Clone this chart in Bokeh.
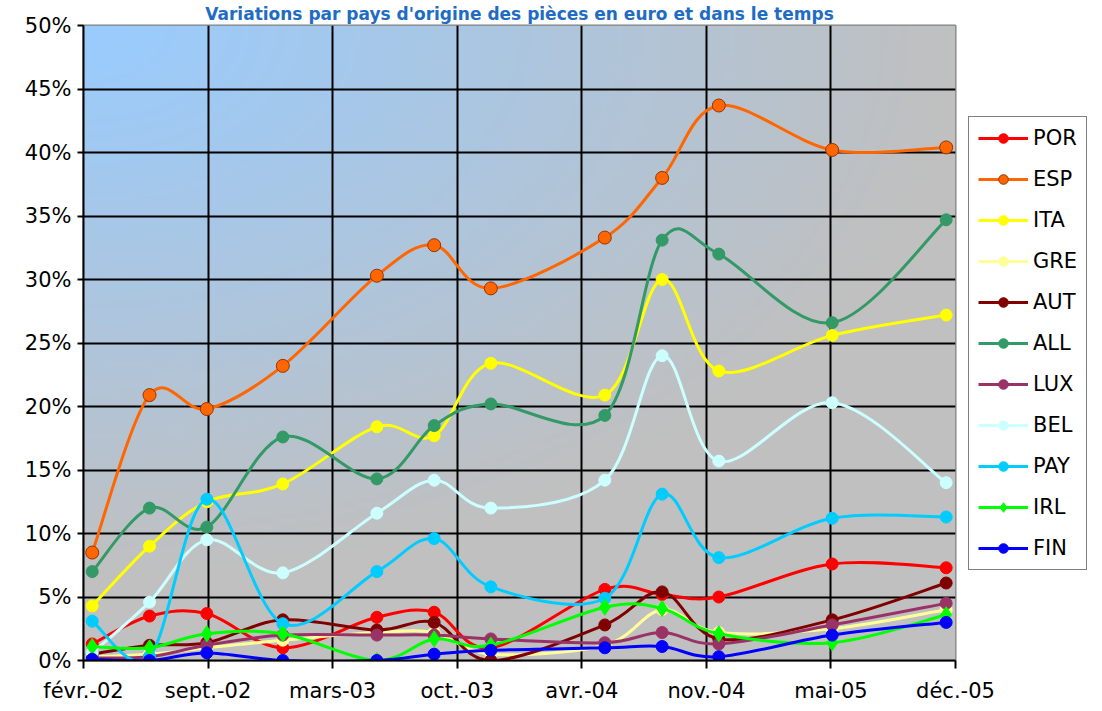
import numpy as np
import pandas as pd
from bokeh.plotting import figure
from bokeh.models import FixedTicker, PrintfTickFormatter, Legend, LegendItem
from bokeh.embed import file_html
from bokeh.resources import INLINE

# ---------------- data ----------------
title_text = "Variations par pays d'origine des pièces en euro et dans le temps"
axis_start = "2002-02-15"
tick_step_days = 200
tick_labels = ["févr.-02", "sept.-02", "mars-03", "oct.-03", "avr.-04", "nov.-04", "mai-05", "déc.-05"]
dates = ["2002-03-01", "2002-06-01", "2002-09-01", "2003-01-01", "2003-06-01", "2003-09-01",
         "2003-12-01", "2004-06-01", "2004-09-01", "2004-12-01", "2005-06-01", "2005-12-01"]

POR = [1.3, 3.5, 3.7, 1.0, 3.4, 3.8, 1.0, 5.6, 5.2, 5.0, 7.6, 7.3]
ESP = [8.5, 20.9, 19.8, 23.2, 30.3, 32.7, 29.3, 33.3, 38.0, 43.7, 40.2, 40.4]
ITA = [4.3, 9.0, 12.5, 13.9, 18.4, 17.7, 23.4, 20.9, 30.0, 22.8, 25.6, 27.2]
GRE = [0.3, 0.5, 1.0, 1.6, 2.2, 2.2, 0.5, 1.2, 4.0, 2.2, 2.5, 4.0]
AUT = [0.5, 1.2, 1.4, 3.2, 2.4, 3.0, 0.0, 2.8, 5.4, 1.7, 3.2, 6.1]
ALL = [7.0, 12.0, 10.5, 17.6, 14.3, 18.5, 20.2, 19.3, 33.1, 32.0, 26.6, 34.7]
LUX = [0.2, 0.3, 1.2, 2.0, 2.0, 2.0, 1.7, 1.4, 2.2, 1.3, 2.8, 4.5]
BEL = [0.6, 4.6, 9.5, 6.9, 11.6, 14.2, 12.0, 14.2, 24.0, 15.7, 20.3, 14.0]
PAY = [3.1, 0.3, 12.7, 2.9, 7.0, 9.6, 5.8, 4.9, 13.1, 8.1, 11.2, 11.3]
IRL = [1.1, 1.0, 2.1, 2.1, 0.0, 1.7, 1.2, 4.2, 4.1, 2.1, 1.4, 3.6]
FIN = [0.1, 0.0, 0.6, 0.0, 0.0, 0.5, 0.8, 1.0, 1.1, 0.3, 2.0, 3.0]

names = ["POR", "ESP", "ITA", "GRE", "AUT", "ALL", "LUX", "BEL", "PAY", "IRL", "FIN"]
values = [POR, ESP, ITA, GRE, AUT, ALL, LUX, BEL, PAY, IRL, FIN]
colors = ["#FF0000", "#FF6600", "#FFFF00", "#FFFF99", "#800000", "#339966",
          "#993366", "#CCFFFF", "#00CCFF", "#00FF00", "#0000FF"]
outlines = ["#FF0000", "#993300", "#FFFF00", "#FFFF99", "#800000", "#339966",
            "#993366", "#CCFFFF", "#00CCFF", "#00FF00", "#0000FF"]
markers = ["circle"] * 9 + ["diamond", "circle"]

y_max = 50
y_step = 5

# ---------------- helpers ----------------
x_days = (pd.to_datetime(dates) - pd.Timestamp(axis_start)).days.to_numpy().astype(float)
x_max = (len(tick_labels) - 1) * tick_step_days


def smooth_segments(x, y):
    """Catmull-Rom style Bezier control points (Excel-like smoothed line)."""
    x = np.asarray(x, float)
    y = np.asarray(y, float)
    xp = np.concatenate([[x[0]], x, [x[-1]]])
    yp = np.concatenate([[y[0]], y, [y[-1]]])
    n = len(x)
    d = dict(x0=[], y0=[], x1=[], y1=[], cx0=[], cy0=[], cx1=[], cy1=[])
    for i in range(n - 1):
        p0x, p1x, p2x, p3x = xp[i], xp[i + 1], xp[i + 2], xp[i + 3]
        p0y, p1y, p2y, p3y = yp[i], yp[i + 1], yp[i + 2], yp[i + 3]
        d["x0"].append(p1x); d["y0"].append(p1y)
        d["x1"].append(p2x); d["y1"].append(p2y)
        d["cx0"].append(p1x + (p2x - p0x) / 6.0); d["cy0"].append(p1y + (p2y - p0y) / 6.0)
        d["cx1"].append(p2x - (p3x - p1x) / 6.0); d["cy1"].append(p2y - (p3y - p1y) / 6.0)
    return d


# ---------------- figure ----------------
FRAME_W, FRAME_H = 872, 635
p = figure(frame_width=FRAME_W, frame_height=FRAME_H,
           x_range=(0, x_max), y_range=(0, y_max),
           output_backend="svg", toolbar_location=None,
           min_border_left=83, min_border_top=25, min_border_bottom=0, min_border_right=0,
           background_fill_color="#C0C0C0", border_fill_color="white")

p.title.text = title_text
p.title.align = "center"
p.title.text_font = "DejaVu Sans"
p.title.text_font_style = "bold"
p.title.text_font_size = "17px"
p.title.text_color = "#1F6CC4"
p.title.standoff = 3

# gradient background of the plot area (light blue -> grey)
nx, ny = 220, 160
u = np.linspace(0, 1, nx)[None, :]
v = np.linspace(1, 0, ny)[:, None]          # distance from top (row 0 = bottom)
t = np.clip(np.sqrt(u ** 2 + (1.15 * v) ** 2), 0, 1)
c0 = np.array([153, 204, 255], float)
c1 = np.array([192, 192, 192], float)
rgb = c0[None, None, :] * (1 - t[..., None]) + c1[None, None, :] * t[..., None]
img = np.empty((ny, nx), dtype=np.uint32)
view = img.view(dtype=np.uint8).reshape((ny, nx, 4))
view[..., 0] = rgb[..., 0].astype(np.uint8)
view[..., 1] = rgb[..., 1].astype(np.uint8)
view[..., 2] = rgb[..., 2].astype(np.uint8)
view[..., 3] = 255
p.image_rgba(image=[img], x=0, y=0, dw=x_max, dh=y_max, level="image")

# axes
p.xaxis.ticker = FixedTicker(ticks=[i * tick_step_days for i in range(len(tick_labels))])
p.xaxis.major_label_overrides = {i * tick_step_days: lab for i, lab in enumerate(tick_labels)}
p.yaxis.ticker = FixedTicker(ticks=list(range(0, y_max + 1, y_step)))
p.yaxis.formatter = PrintfTickFormatter(format="%d%%")

for ax in (p.xaxis[0], p.yaxis[0]):
    ax.axis_line_color = "black"
    ax.axis_line_width = 2
    ax.major_tick_line_color = "black"
    ax.major_tick_line_width = 2
    ax.major_tick_in = 0
    ax.minor_tick_line_color = None
    ax.major_label_text_font = "DejaVu Sans"
    ax.major_label_text_font_size = "21px"
    ax.major_label_text_color = "black"
p.yaxis.major_tick_out = 6
p.yaxis.major_label_standoff = 6
p.xaxis.major_tick_out = 8
p.xaxis.major_label_standoff = 10

p.xgrid.grid_line_color = "black"
p.xgrid.grid_line_width = 2
p.ygrid.grid_line_color = "black"
p.ygrid.grid_line_width = 2
p.outline_line_color = "#808080"
p.outline_line_width = 2

# series
items = []
for name, vals, col, oc, mk in zip(names, values, colors, outlines, markers):
    seg = smooth_segments(x_days, vals)
    r_line = p.bezier(x0="x0", y0="y0", x1="x1", y1="y1", cx0="cx0", cy0="cy0",
                      cx1="cx1", cy1="cy1", source=seg, line_color=col, line_width=3)
    if mk == "diamond":
        size = 16
    elif name == "ESP":
        size = 13
    else:
        size = 12
    r_pts = p.scatter(x=x_days, y=vals, marker=mk, size=size,
                      fill_color=col, line_color=oc, line_width=1)
    items.append(LegendItem(label=name, renderers=[r_line, r_pts]))

legend = Legend(items=items, location="left",
                border_line_color="black", border_line_width=1,
                background_fill_color="white", background_fill_alpha=1.0,
                label_text_font="DejaVu Sans", label_text_font_size="21px",
                label_text_color="black",
                glyph_width=50, glyph_height=24, label_height=24,
                spacing=17, padding=9, margin=13, label_standoff=5)
p.add_layout(legend, "right")

open("out.html", "w").write(file_html(p, INLINE))
